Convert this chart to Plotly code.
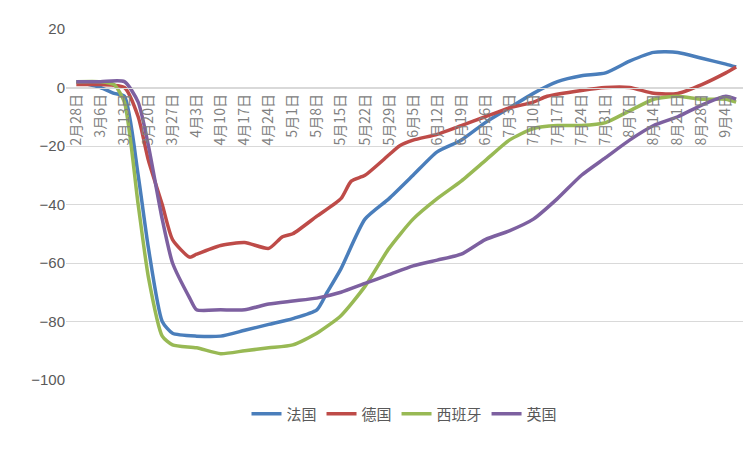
import plotly.graph_objects as go
import pandas as pd

fr_d = ["2/28","3/6","3/10","3/13","3/17","3/20","3/24","3/27","4/3","4/10","4/17","4/24","5/1","5/8","5/11","5/15","5/22","5/29","6/5","6/12","6/19","6/26","7/3","7/10","7/17","7/24","7/31","8/7","8/14","8/21","8/28","9/4","9/7"]
fr_v = [2,0,-2,-3,-30,-55,-80,-84,-85,-85,-83,-81,-79,-76,-70,-62,-45,-38,-30,-22,-18,-12,-7,-2,2,4,5,9,12,12,10,8,7]
de_d = ["2/28","3/6","3/13","3/17","3/20","3/24","3/27","4/1","4/3","4/10","4/17","4/24","4/28","5/1","5/8","5/15","5/18","5/22","5/29","6/1","6/5","6/12","6/19","6/26","7/3","7/10","7/14","7/24","7/31","8/7","8/14","8/21","8/28","9/4","9/7"]
de_v = [1,1,0,-10,-25,-40,-52,-58,-57,-54,-53,-55,-51,-50,-44,-38,-32,-30,-23,-20,-18,-16,-13,-10,-7,-5,-3,-1,0,0,-2,-2,1,5,7]
es_d = ["2/28","3/6","3/10","3/13","3/17","3/20","3/24","3/27","4/3","4/10","4/17","4/24","5/1","5/8","5/15","5/22","5/29","6/5","6/12","6/19","6/26","7/3","7/10","7/17","7/24","7/31","8/7","8/14","8/21","8/28","9/4","9/7"]
es_v = [2,2,1,-5,-40,-65,-85,-88,-89,-91,-90,-89,-88,-84,-78,-68,-55,-45,-38,-32,-25,-18,-14,-13,-13,-12,-8,-4,-3,-4,-4,-5]
uk_d = ["2/28","3/6","3/13","3/17","3/20","3/24","3/27","4/1","4/3","4/10","4/17","4/24","5/1","5/8","5/15","5/22","5/29","6/5","6/12","6/19","6/26","7/3","7/10","7/17","7/24","7/31","8/7","8/14","8/21","8/28","9/4","9/7"]
uk_v = [2,2,2,-5,-20,-45,-60,-72,-76,-76,-76,-74,-73,-72,-70,-67,-64,-61,-59,-57,-52,-49,-45,-38,-30,-24,-18,-13,-10,-6,-3,-4]

tick_dates = pd.date_range("2020-02-28", "2020-09-04", freq="7D")
tick_text = [f"{d.month}月{d.day}日" for d in tick_dates]

def conv(ds):
    return [pd.Timestamp(f"2020-{d.split('/')[0]}-{d.split('/')[1]}") for d in ds]

fig = go.Figure()
for name, ds, vs, c in [("法国", fr_d, fr_v, "#4a7ebb"), ("德国", de_d, de_v, "#be4b48"),
                        ("西班牙", es_d, es_v, "#98b954"), ("英国", uk_d, uk_v, "#7d60a0")]:
    fig.add_trace(go.Scatter(x=conv(ds), y=vs, name=name, mode="lines",
                             line=dict(color=c, width=3.5, shape="spline", smoothing=0.6)))

fig.update_layout(
    width=752, height=452, paper_bgcolor="white", plot_bgcolor="white",
    margin=dict(l=58, r=17, t=15, b=80),
    font=dict(family="Noto Sans CJK SC", color="#595959", size=14),
    legend=dict(orientation="h", x=0.5, xanchor="center", y=-0.05, yanchor="top", font=dict(size=15)),
    xaxis=dict(range=[pd.Timestamp("2020-02-25"), pd.Timestamp("2020-09-09")],
               tickvals=list(tick_dates), ticktext=tick_text, tickangle=-90,
               anchor="free", position=100/120, showgrid=False, showline=True,
               linecolor="#d9d9d9", tickfont=dict(size=14, color="#808080"), ticks=""),
    yaxis=dict(range=[-100, 20], dtick=20, gridcolor="#d9d9d9", zeroline=False,
               tickfont=dict(size=15, family="Liberation Sans")),
)
fig.write_html("out.html")
